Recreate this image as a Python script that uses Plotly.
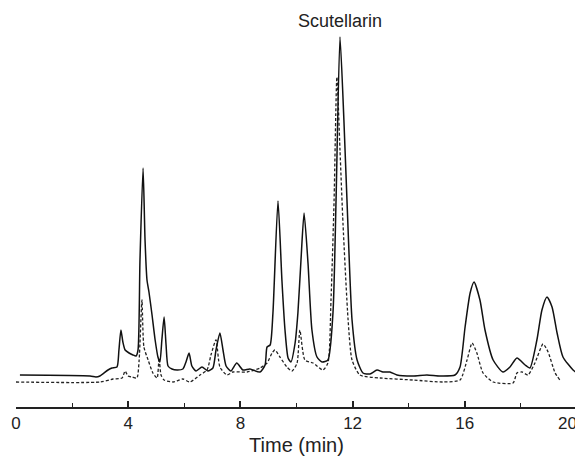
import plotly.graph_objects as go

# solid trace (sample) - time in min, detector response (arbitrary units)
t_solid = [0.14, 2.64, 2.85, 2.99, 3.28, 3.42, 3.60, 3.67, 3.74, 3.81, 3.89, 4.03, 4.17, 4.28,
           4.35, 4.42, 4.53, 4.60, 4.67, 4.74, 4.85, 4.96, 5.06, 5.13, 5.20, 5.28, 5.35, 5.42,
           5.56, 5.74, 5.95, 6.06, 6.17, 6.27, 6.42, 6.63, 6.84, 7.02, 7.13, 7.27, 7.38, 7.49,
           7.66, 7.87, 8.09, 8.34, 8.70, 8.88, 8.95, 9.06, 9.16, 9.34, 9.48, 9.59, 9.70, 9.80,
           9.95, 10.05, 10.16, 10.27, 10.41, 10.55, 10.73, 10.91, 11.12, 11.30, 11.41, 11.55,
           11.69, 11.84, 11.98, 12.16, 12.37, 12.62, 12.87, 13.08, 13.33, 13.58, 14.15, 14.65,
           15.12, 15.65, 15.83, 16.01, 16.19, 16.33, 16.54, 16.72, 17.01, 17.36, 17.61, 17.86,
           18.15, 18.32, 18.57, 18.75, 18.93, 19.11, 19.29, 19.50, 19.86, 20.0]
i_solid = [30, 29, 28, 29, 35, 37, 38, 55, 75, 63, 55, 52, 50, 49,
           55, 145, 237, 165, 125, 113, 90, 65, 48, 43, 65, 88, 60, 39,
           36, 35, 36, 43, 52, 39, 34, 38, 34, 37, 55, 72, 55, 39,
           34, 42, 35, 36, 33, 40, 58, 60, 92, 204, 125, 75, 47, 43,
           62, 92, 145, 192, 142, 75, 48, 43, 45, 92, 205, 368,
           285, 175, 85, 45, 32, 31, 35, 33, 33, 30, 29, 30,
           29, 30, 38, 78, 112, 123, 105, 75, 45, 33, 38, 47,
           40, 37, 65, 95, 108, 98, 72, 48, 35, 32]

# dashed trace (standard)
t_dash = [0.0, 2.99, 3.46, 3.78, 3.89, 3.99, 4.14, 4.31, 4.39, 4.49, 4.56, 4.71, 4.88, 5.03,
          5.10, 5.17, 5.28, 5.60, 5.95, 6.20, 6.56, 6.81, 6.95, 7.13, 7.27, 7.52, 7.73, 8.24,
          8.70, 8.95, 9.13, 9.23, 9.41, 9.66, 9.84, 10.02, 10.12, 10.30, 10.59, 10.94, 11.12,
          11.23, 11.34, 11.44, 11.55, 11.66, 11.84, 11.98, 12.26, 12.98, 14.15, 15.22, 15.83,
          16.08, 16.26, 16.43, 16.65, 17.01, 17.72, 17.86, 18.04, 18.25, 18.50, 18.79, 18.97,
          19.22, 19.39]
i_dash = [23, 23, 26, 27, 34, 29, 28, 27, 45, 105, 58, 45, 32, 27,
          47, 30, 25, 23, 26, 23, 30, 35, 50, 65, 38, 30, 33, 33,
          37, 42, 52, 55, 48, 38, 34, 42, 75, 45, 42, 35, 42,
          105, 205, 328, 255, 180, 85, 45, 30, 27, 25, 23, 25,
          45, 62, 52, 32, 23, 22, 32, 33, 30, 42, 61, 53,
          32, 25]

x_ticks = [0, 4, 8, 12, 16, 20]
# last label padded with figure spaces so it stays inside the window
x_ticktext = ["0", "4", "8", "12", "16", "20\u2007\u2007"]
peak_label = "Scutellarin"
peak_time = 11.55

fig = go.Figure()
fig.add_trace(go.Scatter(x=t_dash, y=i_dash, mode="lines", cliponaxis=False,
                         line=dict(color="#222", width=1.3, dash="3px,2px", shape="spline", smoothing=0.6)))
fig.add_trace(go.Scatter(x=t_solid, y=i_solid, mode="lines", cliponaxis=False,
                         line=dict(color="#111", width=1.5, shape="spline", smoothing=0.6)))

fig.add_annotation(x=peak_time, y=384, text=peak_label, showarrow=False,
                   font=dict(size=18, color="#222"))

# the page body adds an 8px margin, so the figure is 8px smaller and margins shifted
fig.update_layout(
    width=575, height=450,
    margin=dict(l=8, r=6, t=2, b=51, autoexpand=False),
    paper_bgcolor="white", plot_bgcolor="white",
    showlegend=False,
    font=dict(family="Liberation Sans, Arial", color="#222"),
    xaxis=dict(range=[0, 20], tickvals=x_ticks, ticktext=x_ticktext, ticks="inside", ticklen=6,
               tickwidth=1.5, tickcolor="#222", showline=True, linecolor="#222", linewidth=1.5,
               showgrid=False, zeroline=False, tickfont=dict(size=17), automargin=True,
               ticklabeloverflow="allow",
               minor=dict(dtick=2, ticks="inside", ticklen=4, tickcolor="#222", tickwidth=1.2),
               title=dict(text="Time (min)", font=dict(size=20), standoff=6)),
    yaxis=dict(range=[-2, 395], visible=False),
)

fig.write_html("out.html")
